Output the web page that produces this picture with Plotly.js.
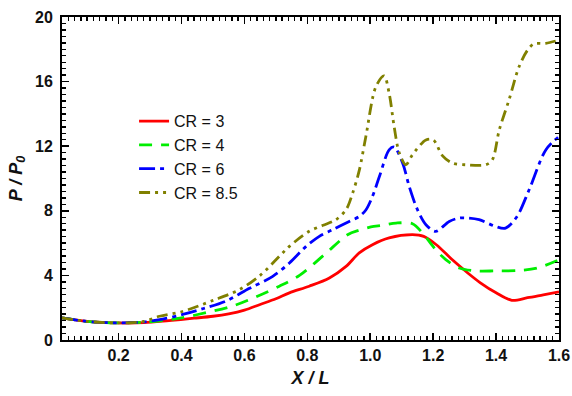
<!DOCTYPE html>
<html>
<head>
<meta charset="utf-8">
<script src="https://cdn.plot.ly/plotly-3.0.1.min.js"></script>
<style>html,body{margin:0;padding:0;background:#fff;}#chart{width:572px;height:396px;}</style>
</head>
<body>
<div id="chart"></div>
<script>
// Series names
var seriesNames = ["CR = 3", "CR = 4", "CR = 6", "CR = 8.5"];

// CR = 3
var xCR3 = [0.02, 0.1, 0.19, 0.28, 0.36, 0.44, 0.5, 0.55, 0.6, 0.65, 0.7, 0.743, 0.806, 0.87, 0.923, 0.965, 1.007, 1.06, 1.134, 1.17, 1.21, 1.26, 1.31, 1.35, 1.4, 1.45, 1.5, 1.55, 1.6];
var yCR3 = [1.37, 1.15, 1.06, 1.07, 1.2, 1.35, 1.47, 1.62, 1.85, 2.2, 2.55, 2.92, 3.33, 3.84, 4.56, 5.39, 5.9, 6.32, 6.52, 6.42, 5.9, 4.98, 4.15, 3.54, 2.92, 2.46, 2.62, 2.8, 2.98];

// CR = 4
var xCR4 = [0.02, 0.1, 0.19, 0.28, 0.36, 0.4, 0.48, 0.56, 0.616, 0.711, 0.775, 0.854, 0.928, 0.965, 1.002, 1.04, 1.082, 1.134, 1.166, 1.208, 1.24, 1.283, 1.336, 1.4, 1.47, 1.53, 1.6];
var yCR4 = [1.37, 1.15, 1.06, 1.1, 1.25, 1.37, 1.7, 2.09, 2.5, 3.33, 4.0, 5.28, 6.52, 6.8, 7.0, 7.1, 7.24, 7.2, 6.63, 5.59, 4.98, 4.46, 4.28, 4.28, 4.3, 4.45, 4.97];

// CR = 6
var xCR6 = [0.02, 0.1, 0.19, 0.28, 0.34, 0.404, 0.47, 0.54, 0.616, 0.69, 0.743, 0.796, 0.838, 0.88, 0.933, 0.965, 0.986, 1.007, 1.029, 1.06, 1.076, 1.103, 1.124, 1.15, 1.177, 1.208, 1.251, 1.283, 1.314, 1.346, 1.399, 1.43, 1.465, 1.505, 1.558, 1.6];
var yCR6 = [1.37, 1.15, 1.06, 1.12, 1.3, 1.58, 1.95, 2.4, 3.2, 3.94, 4.77, 5.8, 6.42, 6.83, 7.34, 7.65, 8.05, 8.89, 10.12, 11.77, 11.95, 10.95, 9.5, 8.07, 7.14, 6.73, 7.34, 7.55, 7.55, 7.45, 7.03, 6.93, 7.6, 9.3, 11.77, 12.6];

// CR = 8.5
var xCR85 = [0.02, 0.1, 0.19, 0.28, 0.33, 0.4, 0.5, 0.584, 0.65, 0.711, 0.743, 0.806, 0.85, 0.891, 0.923, 0.944, 0.965, 0.986, 1.018, 1.044, 1.06, 1.076, 1.092, 1.113, 1.134, 1.177, 1.2, 1.23, 1.261, 1.304, 1.367, 1.388, 1.41, 1.441, 1.473, 1.5, 1.52, 1.558, 1.6];
var yCR85 = [1.37, 1.15, 1.06, 1.15, 1.47, 1.75, 2.45, 3.12, 4.0, 5.18, 5.8, 6.73, 7.1, 7.45, 8.07, 9.1, 10.5, 12.6, 15.69, 16.35, 15.28, 13.2, 11.6, 10.85, 11.47, 12.39, 12.4, 11.4, 10.95, 10.85, 10.85, 11.16, 13.0, 14.86, 16.92, 17.95, 18.33, 18.37, 18.57];

// Axis ticks
var xTickStart = 0, xTickStep = 0.2, xMinorStep = 0.02;
var yTickStart = 0, yTickStep = 4, yMinorStep = 0.4;

var xs = [xCR3, xCR4, xCR6, xCR85];
var ys = [yCR3, yCR4, yCR6, yCR85];
var colors = ["#ff0000", "#00ee00", "#0000ff", "#808000"];
var dashes = ["solid", "13px,9px", "16px,5px,4px,5px", "11px,5px,3px,5px,3px,5px"];

var traces = [];
for (var i = 0; i < 4; i++) {
  traces.push({
    x: xs[i], y: ys[i], name: seriesNames[i], type: "scatter", mode: "lines",
    line: {color: colors[i], width: 2.8, dash: dashes[i], shape: "spline", smoothing: 0.9}
  });
}

var axisFont = {family: "Liberation Sans, Arial, sans-serif", size: 16, color: "#111", weight: "bold"};

var layout = {
  width: 572, height: 396,
  margin: {l: 62, r: 12.5, t: 17, b: 55.5},
  paper_bgcolor: "#fff", plot_bgcolor: "#fff",
  showlegend: true,
  legend: {x: 0.145, y: 0.73, xanchor: "left", yanchor: "top", bgcolor: "rgba(0,0,0,0)",
           font: {family: "Liberation Sans, Arial, sans-serif", size: 16, color: "#111"}},
  xaxis: {
    range: [0.02, 1.6], tickmode: "linear", tick0: xTickStart, dtick: xTickStep, tickformat: ".1f",
    ticks: "inside", ticklen: 7, tickwidth: 1.6, tickcolor: "#000",
    minor: {dtick: xMinorStep, tick0: 0, ticks: "inside", ticklen: 4, tickwidth: 1.4, tickcolor: "#000", showgrid: false},
    showline: true, linewidth: 2, linecolor: "#000", mirror: "allticks",
    showgrid: false, zeroline: false, tickfont: axisFont,
    title: {text: "<b><i>X / L</i></b>", font: {family: "Liberation Sans, Arial, sans-serif", size: 18, color: "#111"}, standoff: 8}
  },
  yaxis: {
    range: [0, 20], tickmode: "linear", tick0: yTickStart, dtick: yTickStep, tickformat: "d",
    ticks: "inside", ticklen: 7, tickwidth: 1.6, tickcolor: "#000",
    minor: {dtick: yMinorStep, tick0: 0, ticks: "inside", ticklen: 4, tickwidth: 1.4, tickcolor: "#000", showgrid: false},
    showline: true, linewidth: 2, linecolor: "#000", mirror: "allticks",
    showgrid: false, zeroline: false, tickfont: axisFont, ticklabelstandoff: 4,
    title: {text: "<b><i>P / P<sub>0</sub></i></b>", font: {family: "Liberation Sans, Arial, sans-serif", size: 18, color: "#111"}, standoff: 8}
  }
};

Plotly.newPlot("chart", traces, layout, {displayModeBar: false, staticPlot: true}).then(function (gd) {
  return Plotly.relayout(gd, {"xaxis.ticklen": 7, "yaxis.ticklen": 7});
});
</script>
</body>
</html>
